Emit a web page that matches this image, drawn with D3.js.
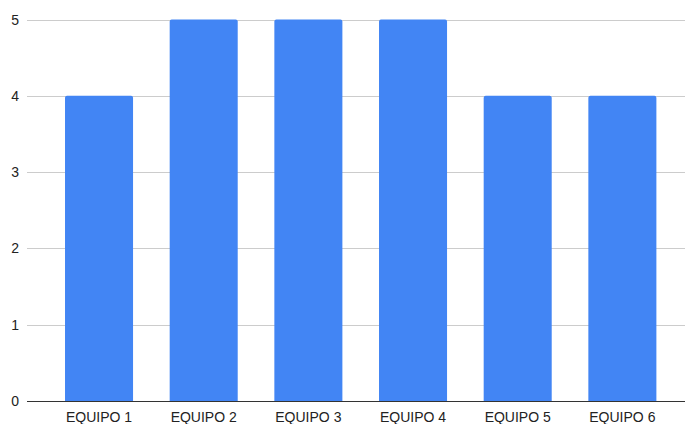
<!DOCTYPE html>
<html>
<head>
<meta charset="utf-8">
<script src="https://cdn.jsdelivr.net/npm/d3@7"></script>
<style>
  html, body { margin: 0; padding: 0; background: #fff; }
  svg { display: block; font-family: "Liberation Sans", Arial, sans-serif; }
</style>
</head>
<body>
<svg id="chart" width="685" height="424"></svg>
<script>
// Team scores
const categories = ["EQUIPO 1", "EQUIPO 2", "EQUIPO 3", "EQUIPO 4", "EQUIPO 5", "EQUIPO 6"];
const values = [4, 5, 5, 5, 4, 4];
const yTicks = [0, 1, 2, 3, 4, 5];

const svg = d3.select("#chart");

const gridLeft = 27, gridRight = 685;
const y = d3.scaleLinear().domain([0, 5]).range([401, 19.5]);
const x = d3.scaleBand()
  .domain(categories)
  .range([46.7, 674.7])
  .paddingInner(0.35)
  .paddingOuter(0.175);

// Horizontal gridlines
svg.append("g")
  .selectAll("line")
  .data(yTicks.filter(d => d !== 0))
  .join("line")
  .attr("x1", gridLeft).attr("x2", gridRight)
  .attr("y1", d => Math.round(y(d)) + 0.5)
  .attr("y2", d => Math.round(y(d)) + 0.5)
  .attr("stroke", "#cccccc")
  .attr("stroke-width", 1);

// Y tick labels
svg.append("g")
  .selectAll("text")
  .data(yTicks)
  .join("text")
  .attr("x", 19)
  .attr("y", d => y(d))
  .attr("dy", "0.36em")
  .attr("text-anchor", "end")
  .attr("font-size", 14)
  .attr("fill", "#222")
  .text(d => d);

// Bars with slightly rounded tops
const r = 2;
svg.append("g")
  .selectAll("path")
  .data(categories.map((c, i) => ({ c, v: values[i] })))
  .join("path")
  .attr("fill", "#4285f4")
  .attr("d", d => {
    const x0 = x(d.c), w = x.bandwidth();
    const yt = y(d.v), yb = y(0);
    return `M${x0},${yb}V${yt + r}Q${x0},${yt} ${x0 + r},${yt}H${x0 + w - r}Q${x0 + w},${yt} ${x0 + w},${yt + r}V${yb}Z`;
  });

// Baseline
svg.append("line")
  .attr("x1", gridLeft).attr("x2", gridRight)
  .attr("y1", y(0) + 0.5).attr("y2", y(0) + 0.5)
  .attr("stroke", "#333")
  .attr("stroke-width", 1);

// X category labels
svg.append("g")
  .selectAll("text")
  .data(categories)
  .join("text")
  .attr("x", d => x(d) + x.bandwidth() / 2)
  .attr("y", 422)
  .attr("text-anchor", "middle")
  .attr("font-size", 14)
  .attr("fill", "#222")
  .text(d => d);
</script>
</body>
</html>
